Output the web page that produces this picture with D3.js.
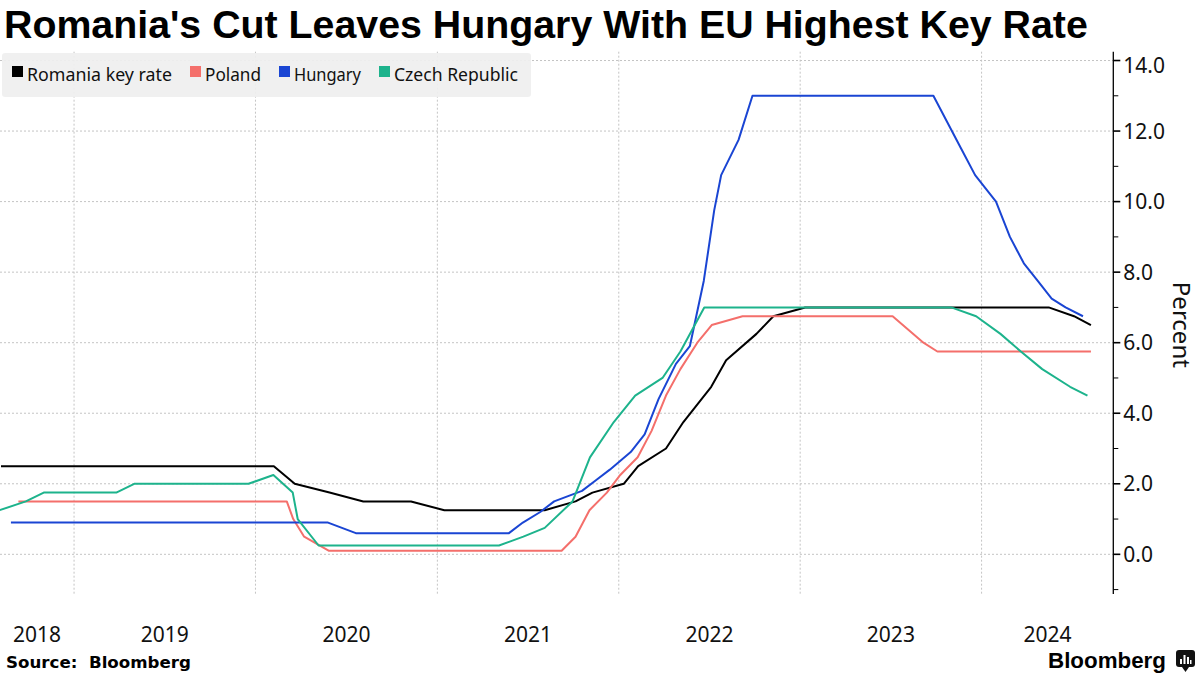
<!DOCTYPE html>
<html>
<head>
<meta charset="utf-8">
<script src="https://cdn.jsdelivr.net/npm/d3@7"></script>
<style>
  html, body { margin: 0; padding: 0; background: #ffffff; }
  svg { display: block; }
</style>
</head>
<body>
<svg id="chart" width="1200" height="675"></svg>
<script>
// ---------------- DATA (rate at each central-bank meeting) ----------------
const seriesNames = ["Romania key rate", "Poland", "Hungary", "Czech Republic"];

const romaniaDates = ["2018-08-07","2020-02-07","2020-03-20","2020-05-29","2020-08-05","2020-11-09","2021-01-15","2021-08-05","2021-10-06","2021-11-09","2022-01-11","2022-02-09","2022-04-06","2022-05-11","2022-07-06","2022-08-05","2022-10-05","2022-11-08","2023-01-11","2024-05-15","2024-07-05","2024-08-08"];
const romaniaValues = [2.5,2.5,2.0,1.75,1.5,1.5,1.25,1.25,1.5,1.75,2.0,2.5,3.0,3.75,4.75,5.5,6.25,6.75,7.0,7.0,6.75,6.5];

const polandDates = ["2018-09-11","2020-03-04","2020-03-17","2020-04-08","2020-05-28","2021-09-08","2021-10-06","2021-11-03","2021-12-08","2022-01-04","2022-02-08","2022-03-08","2022-04-06","2022-05-05","2022-06-08","2022-07-07","2022-09-07","2023-07-06","2023-09-06","2023-10-04","2024-08-08"];
const polandValues = [1.5,1.5,1.0,0.5,0.1,0.1,0.5,1.25,1.75,2.25,2.75,3.5,4.5,5.25,6.0,6.5,6.75,6.75,6.0,5.75,5.75];

const hungaryDates = ["2018-08-27","2020-05-26","2020-06-23","2020-07-21","2021-05-25","2021-06-22","2021-07-27","2021-08-24","2021-09-21","2021-10-19","2021-11-16","2021-12-14","2022-01-25","2022-02-22","2022-03-22","2022-04-26","2022-05-24","2022-06-21","2022-07-12","2022-07-26","2022-08-30","2022-09-27","2023-09-26","2023-10-24","2023-11-21","2023-12-19","2024-01-30","2024-02-27","2024-03-26","2024-04-23","2024-05-21","2024-06-18","2024-07-23"];
const hungaryValues = [0.9,0.9,0.75,0.6,0.6,0.9,1.2,1.5,1.65,1.8,2.1,2.4,2.9,3.4,4.4,5.4,5.9,7.75,9.75,10.75,11.75,13.0,13.0,12.25,11.5,10.75,10.0,9.0,8.25,7.75,7.25,7.0,6.75];

const czechDates = ["2018-08-04","2018-09-26","2018-11-01","2019-03-27","2019-05-02","2019-12-18","2020-02-06","2020-03-16","2020-03-26","2020-05-07","2021-05-05","2021-06-23","2021-08-05","2021-09-30","2021-11-04","2021-12-22","2022-02-03","2022-03-30","2022-05-05","2022-06-22","2023-11-01","2023-12-21","2024-02-08","2024-03-20","2024-05-02","2024-06-27","2024-08-01"];
const czechValues = [1.25,1.5,1.75,1.75,2.0,2.0,2.25,1.75,1.0,0.25,0.25,0.5,0.75,1.5,2.75,3.75,4.5,5.0,5.75,7.0,7.0,6.75,6.25,5.75,5.25,4.75,4.5];

const yearLabels = ["2018","2019","2020","2021","2022","2023","2024"];
const yTickValues = [0,2,4,6,8,10,12,14];
const yMinorTickValues = [-1,1,3,5,7,9,11,13];

const titleText = "Romania's Cut Leaves Hungary With EU Highest Key Rate";
const sourceText = "Source:\u00a0 Bloomberg";
const axisTitle = "Percent";

// ---------------- STYLE ----------------
const colors = ["#000000", "#f46f6b", "#1a45d3", "#1db38c"];
const svg = d3.select("#chart");

const plotLeft = 0, plotRight = 1113.3, plotTop = 51.7, plotBottom = 594;

const parse = d3.utcParse("%Y-%m-%d");
const x = d3.scaleUtc()
  .domain([parse("2018-08-05"), parse("2024-09-22")])
  .range([plotLeft, plotRight]);
const y = d3.scaleLinear()
  .domain([-1.125, 14.25])
  .range([plotBottom, plotTop]);

// ---------------- GRIDLINES ----------------
const grid = svg.append("g").attr("class", "grid");
grid.selectAll("line.h").data(yTickValues).join("line")
  .attr("class", "h")
  .attr("x1", plotLeft).attr("x2", plotRight)
  .attr("y1", d => y(d)).attr("y2", d => y(d))
  .attr("stroke", "#c4c4c4").attr("stroke-width", 1).attr("stroke-dasharray", "2,2");

const yearStarts = yearLabels.slice(1).map(s => parse(s + "-01-01"));
grid.selectAll("line.v").data(yearStarts).join("line")
  .attr("class", "v")
  .attr("x1", d => x(d)).attr("x2", d => x(d))
  .attr("y1", plotTop).attr("y2", plotBottom)
  .attr("stroke", "#c4c4c4").attr("stroke-width", 1).attr("stroke-dasharray", "2,2");

// ---------------- LEGEND BACKGROUND ----------------
const legendG = svg.append("g").attr("class", "legend");
legendG.append("rect")
  .attr("x", 2).attr("y", 53).attr("width", 529).attr("height", 44)
  .attr("rx", 3).attr("fill", "#efefef").attr("fill-opacity", 0.92);

// ---------------- LINES ----------------
const allSeries = [
  { name: seriesNames[0], dates: romaniaDates, values: romaniaValues, color: colors[0] },
  { name: seriesNames[1], dates: polandDates, values: polandValues, color: colors[1] },
  { name: seriesNames[2], dates: hungaryDates, values: hungaryValues, color: colors[2] },
  { name: seriesNames[3], dates: czechDates, values: czechValues, color: colors[3] }
];
const line = d3.line().x(d => x(d.date)).y(d => y(d.value));

svg.append("clipPath").attr("id", "plotclip").append("rect")
  .attr("x", plotLeft).attr("y", 0).attr("width", plotRight - plotLeft).attr("height", 675);

const linesG = svg.append("g").attr("clip-path", "url(#plotclip)");
allSeries.forEach(s => {
  const pts = s.dates.map((d, i) => ({ date: parse(d), value: s.values[i] }));
  linesG.append("path")
    .datum(pts)
    .attr("d", line)
    .attr("fill", "none")
    .attr("stroke", s.color)
    .attr("stroke-width", 2)
    .attr("stroke-linejoin", "round");
});

// ---------------- LEGEND ITEMS ----------------
const legendFont = "'Noto Sans', sans-serif";
const legendTextWidths = [145, 56, 67, 124];
let lx = 12;
allSeries.forEach((s, i) => {
  legendG.append("rect")
    .attr("x", lx).attr("y", 66).attr("width", 11).attr("height", 11)
    .attr("fill", s.color);
  const t = legendG.append("text")
    .attr("x", lx + 15).attr("y", 81)
    .attr("font-family", legendFont).attr("font-size", 18)
    .attr("fill", "#111").text(s.name);
  const w = t.node().getComputedTextLength();
  if (w > legendTextWidths[i]) {
    t.attr("textLength", legendTextWidths[i]).attr("lengthAdjust", "spacingAndGlyphs");
  }
  lx += 15 + Math.min(w, legendTextWidths[i]) + 18;
});

// ---------------- Y AXIS (right) ----------------
const axisG = svg.append("g");
axisG.append("line")
  .attr("x1", plotRight).attr("x2", plotRight)
  .attr("y1", plotTop).attr("y2", plotBottom)
  .attr("stroke", "#000").attr("stroke-width", 1.3);
axisG.selectAll("line.major").data(yTickValues).join("line")
  .attr("class", "major")
  .attr("x1", plotRight).attr("x2", plotRight + 7)
  .attr("y1", d => y(d)).attr("y2", d => y(d))
  .attr("stroke", "#000").attr("stroke-width", 1.6);
axisG.selectAll("line.minor").data(yMinorTickValues).join("line")
  .attr("class", "minor")
  .attr("x1", plotRight).attr("x2", plotRight + 5)
  .attr("y1", d => y(d)).attr("y2", d => y(d))
  .attr("stroke", "#000").attr("stroke-width", 1);
axisG.selectAll("text.tick").data(yTickValues).join("text")
  .attr("class", "tick")
  .attr("x", plotRight + 10).attr("y", d => Math.max(y(d), plotTop + 14))
  .attr("dy", "0.36em")
  .attr("font-family", legendFont).attr("font-size", 21)
  .attr("fill", "#111")
  .text(d => d3.format(".1f")(d));

axisG.append("text")
  .attr("transform", `translate(1173, ${(plotTop + plotBottom) / 2 + 2}) rotate(90)`)
  .attr("text-anchor", "middle")
  .attr("font-family", legendFont).attr("font-size", 24)
  .attr("fill", "#111").text(axisTitle);

// ---------------- X LABELS (centered in visible part of each year) ----------------
const xDomain = x.domain();
const yearSpans = yearLabels.map(yl => {
  const a = parse(yl + "-01-01"), b = parse((+yl + 1) + "-01-01");
  const s = a < xDomain[0] ? xDomain[0] : a;
  const e = b > xDomain[1] ? xDomain[1] : b;
  return { label: yl, mid: (x(s) + x(e)) / 2 };
});
svg.append("g").selectAll("text").data(yearSpans).join("text")
  .attr("x", d => d.mid).attr("y", 642)
  .attr("text-anchor", "middle")
  .attr("font-family", legendFont).attr("font-size", 21)
  .attr("fill", "#111").text(d => d.label);

// ---------------- TITLE ----------------
const title = svg.append("text")
  .attr("x", 4).attr("y", 38)
  .attr("font-family", "'Liberation Sans', Arial, sans-serif")
  .attr("font-weight", "bold")
  .attr("font-size", 36)
  .attr("fill", "#000")
  .text(titleText);
{
  const w = title.node().getComputedTextLength();
  title.attr("font-size", 36 * 1084 / w);
}

// ---------------- FOOTER ----------------
const src = svg.append("text")
  .attr("x", 6).attr("y", 668)
  .attr("font-family", "'DejaVu Sans', sans-serif")
  .attr("font-weight", "bold")
  .attr("font-size", 16)
  .attr("fill", "#000").text(sourceText);
{
  const w = src.node().getComputedTextLength();
  src.attr("font-size", 16 * 185 / w);
}

const logo = svg.append("text")
  .attr("x", 1048).attr("y", 668)
  .attr("font-family", "'Liberation Sans', Arial, sans-serif")
  .attr("font-weight", "bold")
  .attr("font-size", 22)
  .attr("fill", "#000").text("Bloomberg");
{
  const w = logo.node().getComputedTextLength();
  logo.attr("font-size", 22 * 118 / w);
}
// small logo icon
const icon = svg.append("g").attr("transform", "translate(1176,650)");
icon.append("rect").attr("x", 0).attr("y", 0).attr("width", 19).attr("height", 17).attr("rx", 3).attr("fill", "#111");
icon.append("path").attr("d", "M6,17 L9.5,22 L13,17 Z").attr("fill", "#111");
[[4,9,2,5],[7.5,5,2,9],[11,7,2,7],[14,10,1.5,4]].forEach(b => {
  icon.append("rect").attr("x", b[0]).attr("y", b[1]).attr("width", b[2]).attr("height", b[3]).attr("fill", "#fff");
});
</script>
</body>
</html>
